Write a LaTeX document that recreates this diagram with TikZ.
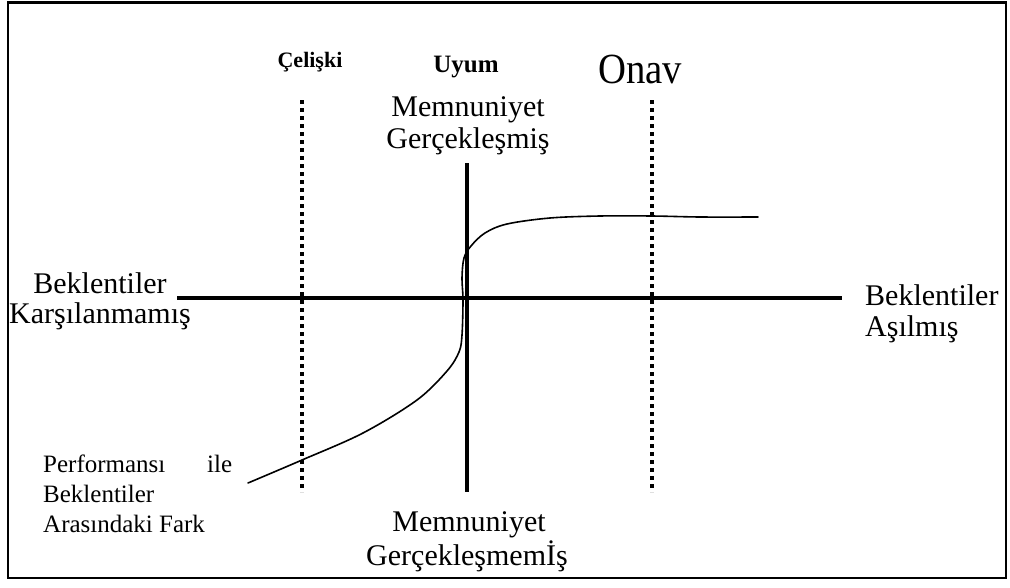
\documentclass[tikz,border=0pt]{standalone}
\usepackage{fontspec}
\setmainfont{Liberation Serif}
\begin{document}
\begin{tikzpicture}[x=1pt,y=-1pt,
  lbl/.style={inner sep=0pt, anchor=base, font=\fontsize{30}{36}\selectfont},
  lbll/.style={lbl, anchor=base west},
  small/.style={inner sep=0pt, anchor=base west, font=\fontsize{25}{30}\selectfont},
  axisline/.style={line width=4.5pt},
  guide/.style={line width=3.5pt, dash pattern=on 4pt off 4pt},
  curveline/.style={line width=1.6pt, line join=round, line cap=round},
  frameline/.style={line width=2.2pt}]
\useasboundingbox (0,0) rectangle (1010,587);
\draw[frameline] (8,2.5) rectangle (1006,578);

% coordinates
\coordinate (hL) at (177,298);
\coordinate (hR) at (842,298);
\coordinate (vT) at (467,163);
\coordinate (vB) at (467,492);
\coordinate (d1T) at (302,100);
\coordinate (d1B) at (302,492);
\coordinate (d2T) at (652,100);
\coordinate (d2B) at (652,492);

% guides and axes
\draw[guide] (d1T) -- (d1B);
\draw[guide] (d2T) -- (d2B);
\draw[axisline] (hL) -- (hR);
\draw[axisline] (vT) -- (vB);

% curve
\draw[curveline] plot[smooth, tension=0.55] coordinates {
 (248,483) (302,460) (363,433) (417,400) (447,371) (459,352) (462,335)
 (463,300) (462,278) (464,258) (471,246) (485,233) (507,224) (550,218)
 (600,216) (652,216) (700,217) (758,217)};

% top labels
\node[lbl, font=\fontsize{22}{26}\selectfont\bfseries] (celiski) at (310,67) {Çelişki};
\node[lbl, font=\fontsize{25}{30}\selectfont\bfseries] (uyum) at (466,72) {Uyum};
\node[lbl, font=\fontsize{43}{48}\selectfont] (onay) at (640,83) {\scalebox{0.9}[1]{Onav}};
\node[lbl] (memtop) at (468,116) {Memnuniyet};
\node[lbl] (gertop) at (468,148) {Gerçekleşmiş};

% left labels
\node[lbl] (bekL) at (100,293) {Beklentiler};
\node[lbl] (karL) at (100,323) {Karşılanmamış};

% right labels
\node[lbll] (bekR) at (865,305) {Beklentiler};
\node[lbll] (asR) at (865,336) {Aşılmış};

% bottom labels
\node[lbl] (membot) at (469,531) {Memnuniyet};
\node[lbl] (gerbot) at (467,565) {Gerçekleşmemİş};

% bottom-left label
\node[small] (perf) at (43,472) {Performansı};
\node[small] (ile) at (207,472) {ile};
\node[small] (bekBL) at (43,502) {Beklentiler};
\node[small] (fark) at (43,532) {Arasındaki Fark};
\end{tikzpicture}
\end{document}
